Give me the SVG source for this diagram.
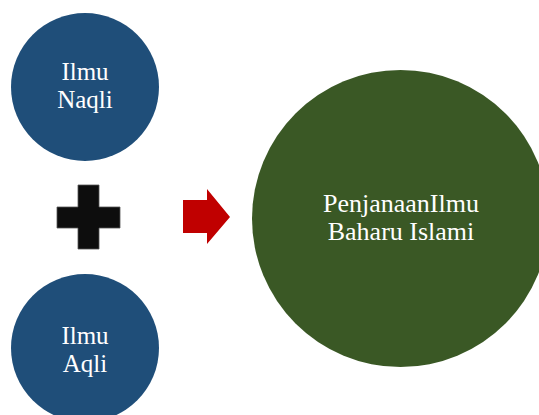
<svg xmlns="http://www.w3.org/2000/svg" width="539" height="415" viewBox="0 0 539 415">
<style>
.lbl{font-family:"Liberation Serif","Times New Roman",serif;font-size:25px;fill:#ffffff;text-anchor:middle}
.big{font-size:26px}
.blue{fill:#1f4e79}
.green{fill:#3a5825}
</style>
<rect width="539" height="415" fill="#ffffff"/>
<g id="ilmu-naqli">
<circle class="blue" cx="85" cy="87" r="74"/>
<text class="lbl" x="85" y="80">Ilmu</text>
<text class="lbl" x="85" y="108">Naqli</text>
</g>
<g id="ilmu-aqli">
<circle class="blue" cx="85" cy="348" r="74"/>
<text class="lbl" x="85" y="344">Ilmu</text>
<text class="lbl" x="85" y="372">Aqli</text>
</g>
<g id="plus">
<path d="M78,185 H99 V207 H120 V228 H99 V249 H78 V228 H57 V207 H78 Z" fill="#0d0d0d" stroke="#555555" stroke-width="0.8"/>
</g>
<g id="connectors">
<path d="M183,200 H207 V189 L230,217 L207,244 V233 H183 Z" fill="#c00000"/>
</g>
<g id="penjanaan">
<circle class="green" cx="400.5" cy="218.5" r="148.5"/>
<text class="lbl big" x="401" y="212">PenjanaanIlmu</text>
<text class="lbl big" x="401" y="240">Baharu Islami</text>
</g>
</svg>
